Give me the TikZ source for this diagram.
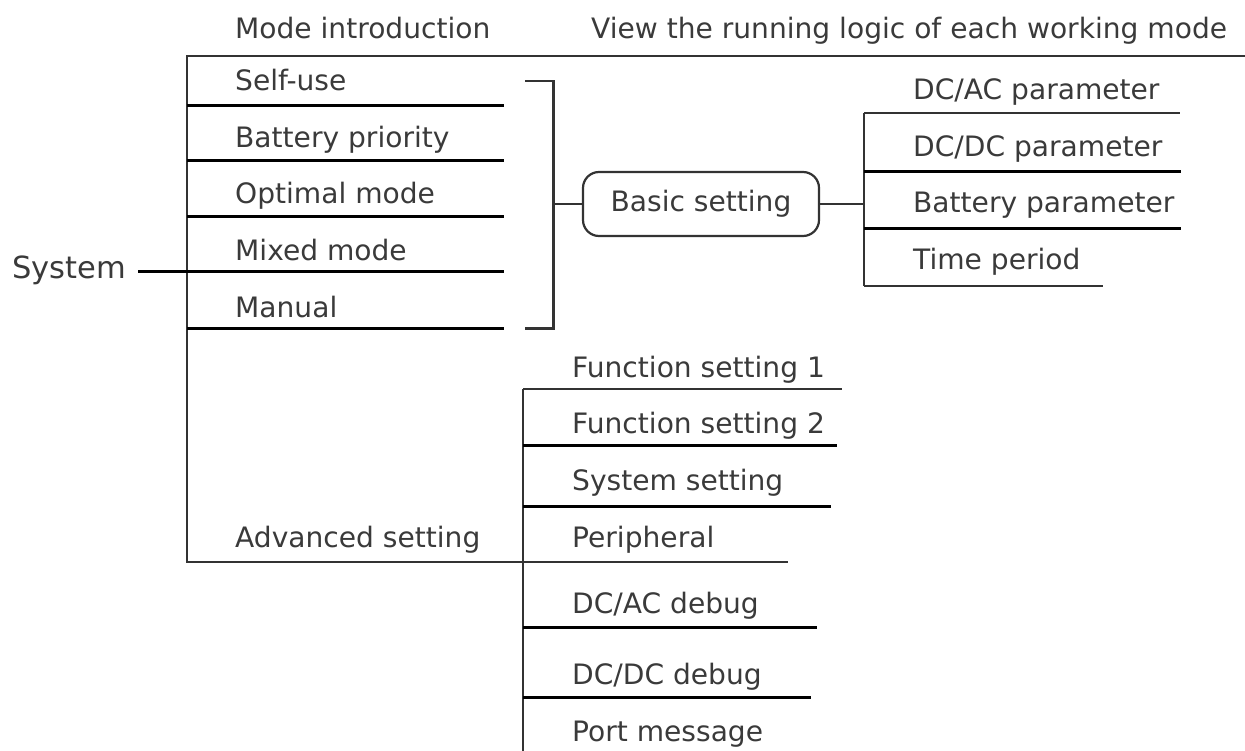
\documentclass[tikz,border=0pt]{standalone}
\usepackage{fontspec}
\setmainfont{DejaVu Sans}
\definecolor{txtgray}{HTML}{3A3A3A}
\definecolor{linegray}{HTML}{333333}
\begin{document}
\begin{tikzpicture}[x=1pt,y=-1pt,
  lbl/.style={anchor=base west,inner sep=0pt,font=\fontsize{28.1}{30}\selectfont,text=txtgray},
  bold/.style={line width=3pt,draw=black},
  fine/.style={line width=2.2pt,draw=linegray},
  boxed/.style={draw=linegray,line width=2.2pt,rounded corners=16pt,minimum width=236pt,minimum height=64pt,inner sep=0pt,font=\fontsize{28.1}{30}\selectfont,text=txtgray}]
\useasboundingbox (0,0) rectangle (1245,751);
% texts
\node[lbl] (modeintro) at (235,39) {Mode introduction};
\node[lbl] (view) at (591,39) {View the running logic of each working mode};
\node[lbl,font=\fontsize{30.5}{33}\selectfont] (system) at (12,279) {System};
\node[lbl] (selfuse) at (235,91) {Self-use};
\node[lbl] (batprio) at (235,148) {Battery priority};
\node[lbl] (optimal) at (235,204) {Optimal mode};
\node[lbl] (mixed) at (235,261) {Mixed mode};
\node[lbl] (manual) at (235,318) {Manual};
\node[lbl] (advanced) at (235,547) {Advanced setting};
\node[boxed] (basic) at (701,204) {Basic setting};
\node[lbl] (dcacp) at (913,100) {DC/AC parameter};
\node[lbl] (dcdcp) at (913,157) {DC/DC parameter};
\node[lbl] (batp) at (913,213) {Battery parameter};
\node[lbl] (timep) at (913,270) {Time period};
\node[lbl] (fs1) at (572,377) {Function setting 1};
\node[lbl] (fs2) at (572,433) {Function setting 2};
\node[lbl] (syss) at (572,490) {System setting};
\node[lbl] (periph) at (572,547) {Peripheral};
\node[lbl] (dcacd) at (572,613) {DC/AC debug};
\node[lbl] (dcdcd) at (572,684) {DC/DC debug};
\node[lbl] (portm) at (572,741) {Port message};
% coordinates
\coordinate (topL) at (187,56);
\coordinate (topR) at (1245,56);
\coordinate (leftB) at (187,562);
\coordinate (sysS) at (138,272);
\coordinate (sysE) at (187,272);
\coordinate (brT) at (525,81);
\coordinate (brTR) at (553.5,81);
\coordinate (brB) at (525,328.5);
\coordinate (brBR) at (553.5,328.5);
\coordinate (brM) at (553.5,204);
\coordinate (rvT) at (864,113);
\coordinate (rvB) at (864,286);
\coordinate (rvM) at (864,204);
\coordinate (avT) at (523,389);
\coordinate (avB) at (523,751);
% main frame
\draw[fine] (topR) -- (topL) -- (leftB) -- (788,562);
\draw[bold] (sysS) -- (sysE);
% mode lines
\draw[bold] (187,106) -- (504,106);
\draw[bold] (187,161) -- (504,161);
\draw[bold] (187,217) -- (504,217);
\draw[bold] (187,272) -- (504,272);
\draw[bold] (187,328.5) -- (504,328.5);
% bracket
\draw[fine] (brT) -- (brTR) -- (brBR) -- (brB);
\draw[fine] (brM) -- (basic.west);
\draw[fine] (basic.east) -- (rvM);
% right parameter list
\draw[fine] (rvT) -- (rvB);
\draw[fine] (rvT) -- (1180,113);
\draw[bold] (864,172) -- (1181,172);
\draw[bold] (864,229) -- (1181,229);
\draw[fine] (rvB) -- (1103,286);
% advanced list
\draw[fine] (avT) -- (avB);
\draw[fine] (avT) -- (842,389);
\draw[bold] (523,445) -- (837,445);
\draw[bold] (523,506) -- (831,506);
\draw[bold] (523,627) -- (817,627);
\draw[bold] (523,697) -- (811,697);
\end{tikzpicture}
\end{document}
